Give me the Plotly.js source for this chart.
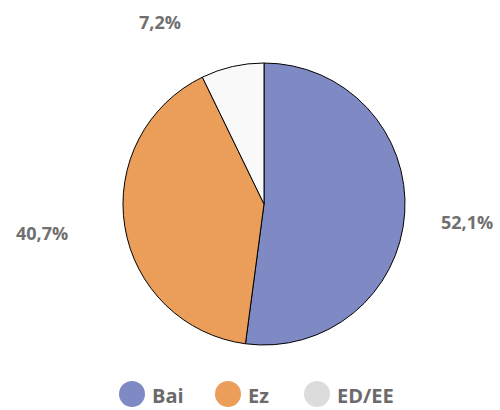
<!DOCTYPE html>
<html><head><meta charset="utf-8">
<script src="https://cdn.plot.ly/plotly-3.0.1.min.js"></script>
<style>html,body{margin:0;padding:0;background:#fff}</style>
</head><body>
<div id="chart" style="width:500px;height:410px"></div>
<script>
const categories = ["Bai", "Ez", "ED/EE"];
const values = [52.1, 40.7, 7.2];
const sliceColors = ["#7f8ac4", "#eb9d5a", "#f9f9f9"];
const legendColors = ["#7f8ac4", "#eb9d5a", "#dcdcdc"];

const W = 500, H = 410;
const cx = 264, cy = 204, R = 141;

function fmt(v){ return v.toFixed(1).replace('.', ',') + '%'; }

// label placement (pixel) per slice
const labelPos = [[467, 222], [42, 233], [160, 22]];

const annotations = [];
const shapes = [];
values.forEach((v, i) => {
  annotations.push({
    x: labelPos[i][0] / W, y: 1 - labelPos[i][1] / H, xref: 'paper', yref: 'paper',
    text: '<b>' + fmt(v) + '</b>', showarrow: false, xanchor: 'center', yanchor: 'middle',
    font: {family: 'Open Sans, sans-serif', size: 18, color: '#707070'}
  });
});

// custom legend
const legX = [132, 228, 317];
const legY = 394, rr = 13;
categories.forEach((c, i) => {
  shapes.push({
    type: 'circle', xref: 'paper', yref: 'paper',
    x0: (legX[i] - rr) / W, x1: (legX[i] + rr) / W,
    y0: 1 - (legY + rr) / H, y1: 1 - (legY - rr) / H,
    fillcolor: legendColors[i], line: {width: 0}
  });
  annotations.push({
    x: (legX[i] + 18) / W, y: 1 - (legY + 1) / H, xref: 'paper', yref: 'paper',
    text: '<b>' + c + '</b>', showarrow: false, xanchor: 'left', yanchor: 'middle',
    font: {family: 'Open Sans, sans-serif', size: 20, color: '#6b6b6b'}
  });
});

const trace = {
  type: 'pie', labels: categories, values: values, sort: false,
  direction: 'clockwise', rotation: 0,
  marker: {colors: sliceColors, line: {color: '#000', width: 1}},
  textinfo: 'none', hoverinfo: 'label+percent', showlegend: false,
  domain: {x: [(cx - R) / W, (cx + R) / W], y: [1 - (cy + R) / H, 1 - (cy - R) / H]}
};

Plotly.newPlot('chart', [trace], {
  width: W, height: H, margin: {l: 0, r: 0, t: 0, b: 0},
  paper_bgcolor: '#fff', plot_bgcolor: '#fff', showlegend: false,
  annotations: annotations, shapes: shapes
}, {displayModeBar: false, staticPlot: true});
</script>
</body></html>
